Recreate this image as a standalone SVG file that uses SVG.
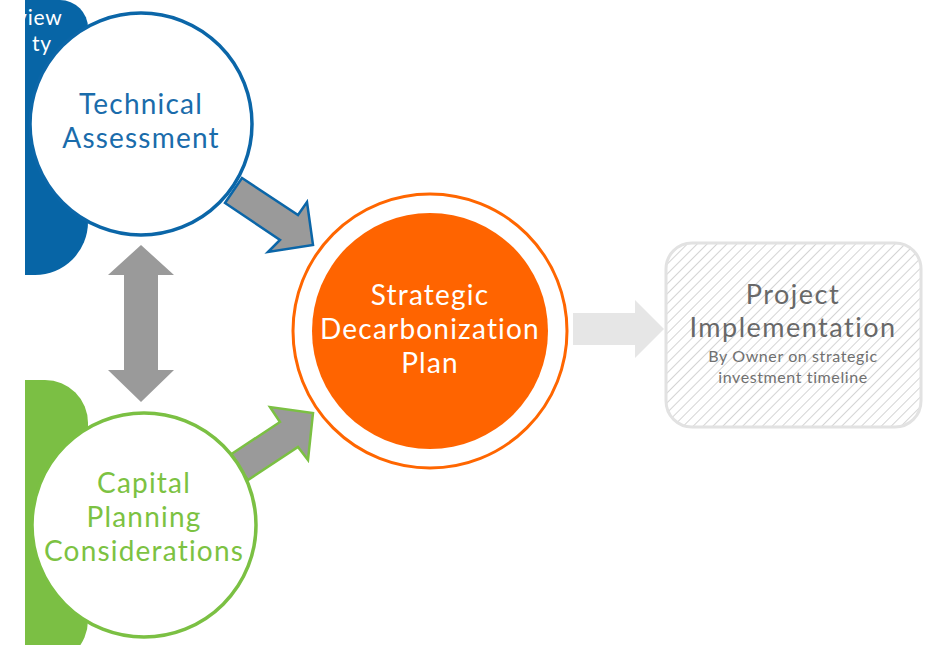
<svg xmlns="http://www.w3.org/2000/svg" width="927" height="645" viewBox="0 0 927 645">
<style>
.t{font-family:Lato,"Open Sans","Liberation Sans",sans-serif;text-anchor:middle}
.big{font-size:28px;letter-spacing:1.2px}
.pi{font-size:27px;letter-spacing:1.5px;fill:#686868}
.sm{font-size:16px;letter-spacing:0.6px;fill:#707070}
</style>
<defs>
<pattern id="hatch" patternUnits="userSpaceOnUse" width="7" height="7" patternTransform="rotate(45)">
<line x1="0" y1="0" x2="0" y2="7" stroke="#d4d4d4" stroke-width="2"/>
</pattern>
<clipPath id="clipL"><rect x="25" y="0" width="900" height="645"/></clipPath>
</defs>
<rect width="927" height="645" fill="#ffffff"/>
<g id="side-blue">
<path d="M25,0 H60 A28,28 0 0 1 88,28 V222 A53,53 0 0 1 35,275 H25 Z" fill="#0765a6"/>
<g clip-path="url(#clipL)" font-family="Lato,'Open Sans','Liberation Sans',sans-serif" font-size="21" letter-spacing="0.8" fill="#ffffff">
<text x="16" y="25">view</text>
<text x="32" y="51">ty</text>
</g>
</g>
<g id="side-green">
<path d="M25,380 H45 A43,43 0 0 1 88,423 V620 A45,45 0 0 1 43,665 H25 Z" fill="#7bbf44"/>
</g>
<g id="connectors">
<polygon points="242,178 298,215 307,202 313,245 268,252 280,240 225,203" fill="#9a9a9a" stroke="#0b66a8" stroke-width="2.5" stroke-linejoin="miter"/>
<polygon points="230,455 280,422 270,407 313,413 308,460 298,447 248,480" fill="#9a9a9a" stroke="#7bc043" stroke-width="2.5" stroke-linejoin="miter"/>
<polygon points="141,245 174,275 158,275 158,370 174,370 141,402 108,370 124,370 124,275 108,275" fill="#9a9a9a"/>
<polygon points="573,313 635,313 635,300 664,329 635,358 635,345 573,345" fill="#e6e6e6"/>
</g>
<g id="technical-assessment">
<circle cx="141" cy="124" r="111" fill="#ffffff" stroke="#0b66a8" stroke-width="3.5"/>
<text class="t big" x="141" y="114" fill="#1a6cab">Technical</text>
<text class="t big" x="141" y="148" fill="#1a6cab">Assessment</text>
</g>
<g id="capital-planning">
<circle cx="144" cy="525" r="112" fill="#ffffff" stroke="#7bc043" stroke-width="3.5"/>
<text class="t big" x="144" y="493" fill="#7cc242">Capital</text>
<text class="t big" x="144" y="527" fill="#7cc242">Planning</text>
<text class="t big" x="144" y="561" fill="#7cc242">Considerations</text>
</g>
<g id="strategic-plan">
<circle cx="430" cy="331" r="137" fill="#ffffff" stroke="#ff6600" stroke-width="3"/>
<circle cx="430" cy="331" r="118" fill="#ff6400"/>
<text class="t big" x="430" y="305" fill="#ffffff">Strategic</text>
<text class="t big" x="430" y="339" fill="#ffffff">Decarbonization</text>
<text class="t big" x="430" y="373" fill="#ffffff">Plan</text>
</g>
<g id="project-implementation">
<rect x="666" y="243" width="255" height="184" rx="26" fill="url(#hatch)" stroke="#e2e2e2" stroke-width="3"/>
<text class="t pi" x="793" y="304">Project</text>
<text class="t pi" x="793" y="337">Implementation</text>
<text class="t sm" x="793" y="362">By Owner on strategic</text>
<text class="t sm" x="793" y="383">investment timeline</text>
</g>
</svg>
